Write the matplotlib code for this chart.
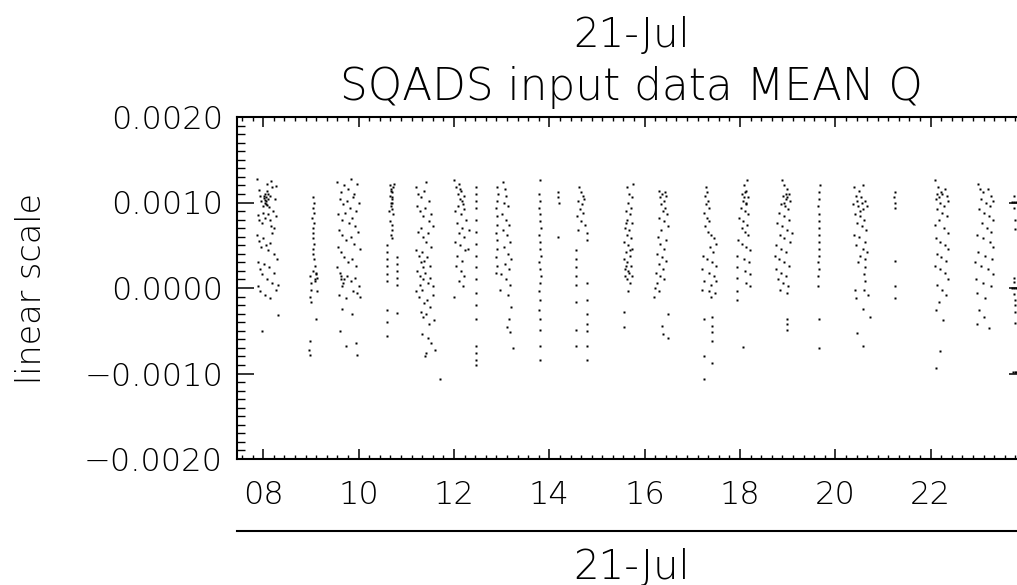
import matplotlib
matplotlib.use("Agg")
import matplotlib.pyplot as plt
from matplotlib.ticker import MultipleLocator, FixedLocator, FixedFormatter, FuncFormatter

# ---------------- data (time in hours of 21-Jul, MEAN Q in units of 1e-4) -------------
pass_A = [(7.87,12.8),(7.90,11.5),(7.93,10.8),(7.96,10.2),(7.99,9.6),(8.01,10.5),(8.03,10.0),(8.04,10.3),
          (8.05,9.8),(8.06,10.6),(8.07,11.4),(8.08,12.2),(8.10,11.0),(8.12,9.5),(8.14,10.8),(8.16,12.5),
          (8.18,11.8),(8.20,9.0),(8.24,10.4),(8.27,11.9),(7.88,8.5),(7.92,8.0),(7.97,7.6),(8.00,8.8),
          (8.03,8.2),(8.09,8.6),(8.13,7.9),(8.17,7.2),(8.22,7.0),(8.26,8.4),(7.87,6.2),(7.91,5.5),
          (7.95,4.8),(8.00,5.8),(8.06,5.0),(8.10,4.4),(8.15,5.3),(8.19,6.4),(8.23,4.0),(8.28,3.4),
          (7.88,3.0),(7.93,2.2),(7.97,1.6),(8.02,2.8),(8.07,1.0),(8.12,2.4),(8.18,0.6),(8.22,1.8),
          (8.27,-0.2),(8.30,0.4),(7.89,0.2),(7.94,-0.4),(8.04,-0.8),(8.14,-1.2),(8.31,-3.2),(7.98,-5.0),
          (8.02,10.8),(8.05,10.2),(8.07,9.7),(8.03,11.0),(8.09,10.4)]
pass_B = [(9.05,10.6),(9.06,10.0),(9.04,9.4),(9.07,8.8),(9.03,8.2),(9.06,7.6),(9.05,7.0),(9.04,6.4),
          (9.05,5.8),(9.06,5.2),(9.05,4.6),(9.04,4.0),(9.06,3.4),(9.08,2.6),(9.04,2.0),(9.10,1.6),
          (9.12,1.2),(9.09,0.8),(8.98,1.4),(8.99,0.6),(9.00,-0.2),(8.98,-1.0),(8.99,-1.6),(9.12,-0.4),
          (9.10,-3.6),(8.97,-6.2),(8.96,-7.2),(8.97,-7.8),(9.08,1.0),(9.11,1.8)]
pass_C = [(9.55,12.4),(9.62,11.2),(9.70,12.0),(9.78,11.6),(9.85,12.8),(9.90,11.0),(9.96,12.2),(9.60,10.4),
          (9.68,9.8),(9.75,10.2),(9.82,9.4),(9.88,10.6),(9.94,9.0),(10.00,10.0),(9.57,8.6),(9.65,8.0),
          (9.72,8.8),(9.80,7.6),(9.86,8.2),(9.93,7.2),(9.98,6.6),(9.58,6.8),(9.66,6.2),(9.74,5.6),
          (9.83,6.0),(9.90,5.2),(10.02,4.6),(9.56,4.8),(9.64,4.2),(9.70,3.6),(9.78,3.0),(9.86,3.4),
          (9.95,2.6),(9.55,2.4),(9.60,1.8),(9.62,1.0),(9.68,0.6),(9.75,1.4),(9.84,0.8),(9.92,1.2),
          (10.00,0.2),(9.58,-0.8),(9.74,-1.2),(9.88,-0.4),(9.96,-0.6),(10.02,-1.0),(9.66,-2.4),
          (9.86,-3.0),(9.60,-5.0),(9.73,-6.8),(9.95,-6.4),(9.96,-7.8),(9.64,1.4),(9.66,0.2),(9.70,1.0)]
pass_D = [(10.65,12.0),(10.68,11.6),(10.70,11.2),(10.66,10.8),(10.69,10.4),(10.71,10.0),(10.67,9.6),
          (10.70,9.2),(10.73,11.8),(10.75,12.2),(10.64,9.0),(10.72,8.6),(10.66,7.8),(10.69,7.4),
          (10.68,6.2),(10.70,5.8),(10.59,5.0),(10.59,4.2),(10.59,3.4),(10.59,2.6),(10.59,1.6),
          (10.59,0.8),(10.80,3.6),(10.80,2.8),(10.80,2.0),(10.80,1.2),(10.80,0.4),(10.59,-2.6),
          (10.80,-2.9),(10.59,-4.0),(10.59,-5.6),(10.70,6.8),(10.67,11.3),(10.69,10.7),(10.68,9.9)]
pass_E = [(11.20,11.8),(11.25,11.0),(11.30,10.6),(11.37,11.4),(11.42,12.4),(11.48,10.2),(11.22,9.6),
          (11.28,9.0),(11.35,8.4),(11.40,9.4),(11.47,7.8),(11.52,8.6),(11.56,7.2),(11.24,6.6),
          (11.30,7.0),(11.36,6.0),(11.41,5.4),(11.46,6.4),(11.52,4.8),(11.20,4.4),(11.26,3.8),
          (11.32,4.2),(11.38,3.2),(11.44,3.6),(11.50,2.6),(11.22,2.0),(11.28,1.4),(11.34,2.4),
          (11.40,1.8),(11.45,0.6),(11.50,1.2),(11.56,0.2),(11.20,-0.4),(11.26,-1.0),(11.32,-0.2),
          (11.38,-1.8),(11.44,-1.4),(11.50,-2.2),(11.55,-0.8),(11.30,-2.8),(11.36,-3.4),(11.42,-3.0),
          (11.48,-4.2),(11.58,-3.8),(11.33,-5.4),(11.45,-5.8),(11.52,-6.4),(11.42,-7.6),(11.40,-8.0),
          (11.60,-7.2),(11.70,-10.6),(11.30,3.0),(11.34,1.0),(11.28,0.4)]
pass_F = [(12.00,12.6),(12.05,11.8),(12.10,12.2),(12.15,11.4),(12.20,10.8),(12.12,10.4),(12.08,9.6),
          (12.18,9.8),(12.22,9.2),(12.03,9.0),(12.14,8.6),(12.25,8.0),(12.06,7.6),(12.16,7.0),
          (12.10,6.4),(12.20,6.0),(12.02,5.4),(12.12,5.0),(12.24,4.4),(12.06,3.8),(12.16,3.2),
          (12.04,2.6),(12.14,2.0),(12.22,1.4),(12.00,-1.0),(12.10,0.8),(12.18,0.2),(12.46,11.8),
          (12.46,11.0),(12.46,10.2),(12.46,9.4),(12.46,8.0),(12.46,6.6),(12.46,5.2),(12.46,3.8),
          (12.47,2.4),(12.47,1.0),(12.47,-0.6),(12.47,-2.0),(12.47,-3.6),(12.46,-6.8),(12.46,-7.6),
          (12.47,-8.4),(12.47,-9.0),(12.32,6.8),(12.30,4.6),(12.08,11.0),(12.12,11.6),(12.16,10.2)]
pass_G = [(12.90,11.8),(12.92,11.0),(12.90,10.2),(12.89,9.4),(12.90,8.4),(12.90,7.4),(12.89,6.4),
          (12.90,5.6),(12.90,4.6),(12.89,3.6),(12.90,2.6),(12.89,1.8),(13.03,12.4),(13.07,11.6),
          (13.10,10.8),(13.05,10.0),(13.13,9.6),(13.01,8.6),(13.09,8.0),(13.15,7.4),(13.03,6.8),
          (13.11,6.2),(13.17,5.4),(13.05,4.8),(13.13,4.0),(13.19,3.4),(13.07,2.8),(13.15,2.2),
          (12.99,1.6),(13.10,1.0),(13.17,0.4),(12.97,-0.2),(13.13,-0.8),(13.19,-2.2),(13.15,-3.6),
          (13.11,-4.6),(13.17,-5.2),(13.23,-7.0)]
pass_H = [(13.80,12.6),(13.78,11.0),(13.80,10.2),(13.79,9.4),(13.81,8.6),(13.80,7.8),(13.82,7.0),
          (13.79,6.2),(13.81,5.4),(13.80,4.6),(13.82,3.8),(13.78,3.0),(13.80,2.2),(13.83,1.4),
          (13.80,0.6),(13.78,-0.4),(13.81,-1.4),(13.79,-2.6),(13.80,-3.6),(13.80,-4.9),(13.80,-6.8),
          (13.80,-8.4)]
pass_I = [(14.18,11.2),(14.19,10.6),(14.20,10.0),(14.18,6.0)]
pass_J = [(14.62,11.8),(14.66,11.2),(14.70,10.8),(14.60,10.2),(14.68,9.8),(14.72,10.4),(14.64,9.2),
          (14.70,8.8),(14.58,8.4),(14.66,7.8),(14.74,7.4),(14.60,6.8),(14.78,6.4),(14.78,5.6),
          (14.57,4.4),(14.57,3.4),(14.57,2.4),(14.57,1.4),(14.57,0.4),(14.78,0.6),(14.57,-1.6),
          (14.78,-1.4),(14.78,-3.0),(14.57,-4.9),(14.78,-4.2),(14.78,-5.0),(14.57,-6.8),(14.78,-6.8),
          (14.78,-8.4)]
pass_K = [(15.62,11.8),(15.68,11.0),(15.74,10.6),(15.65,10.0),(15.72,9.4),(15.60,9.0),(15.70,8.6),
          (15.64,8.0),(15.74,7.6),(15.58,7.0),(15.68,6.8),(15.62,6.2),(15.72,5.8),(15.57,5.4),
          (15.66,5.0),(15.74,4.6),(15.60,4.2),(15.70,3.8),(15.56,3.4),(15.64,3.0),(15.72,2.6),
          (15.58,2.2),(15.68,1.8),(15.74,1.4),(15.62,1.0),(15.70,0.6),(15.66,-0.4),(15.56,-2.8),
          (15.56,-4.6),(15.76,12.2),(15.60,7.6),(15.69,4.4),(15.60,2.6),(15.65,2.0),(15.58,1.4)]
pass_L = [(16.30,11.4),(16.36,11.0),(16.42,11.2),(16.32,10.6),(16.40,10.2),(16.45,10.8),(16.34,9.8),
          (16.42,9.4),(16.38,9.0),(16.46,8.6),(16.30,8.2),(16.40,7.8),(16.48,7.2),(16.35,6.8),
          (16.28,6.0),(16.44,5.6),(16.32,5.2),(16.40,4.6),(16.26,4.0),(16.36,3.6),(16.44,3.2),
          (16.30,2.8),(16.38,2.2),(16.24,1.8),(16.33,1.4),(16.40,1.0),(16.26,0.6),(16.22,0.0),
          (16.30,-0.4),(16.20,-1.0),(16.48,-3.0),(16.36,-4.4),(16.38,-5.4),(16.48,-5.8)]
pass_M = [(17.28,11.8),(17.30,11.2),(17.26,10.8),(17.32,10.2),(17.28,9.8),(17.34,9.4),(17.24,8.8),
          (17.30,8.2),(17.36,7.8),(17.26,7.2),(17.32,6.6),(17.40,6.2),(17.46,5.8),(17.50,5.2),
          (17.38,4.8),(17.44,4.2),(17.22,3.8),(17.30,3.4),(17.42,3.0),(17.50,2.6),(17.20,2.2),
          (17.36,1.8),(17.46,1.4),(17.24,0.8),(17.40,0.4),(17.50,0.8),(17.20,-0.2),(17.34,-0.4),
          (17.48,-0.6),(17.40,-1.0),(17.25,-3.6),(17.41,-3.4),(17.41,-4.4),(17.41,-5.2),(17.41,-6.2),
          (17.25,-8.0),(17.41,-8.8),(17.25,-10.7)]
pass_N = [(18.14,12.6),(18.08,12.0),(18.12,11.4),(18.04,11.0),(18.16,10.6),(18.06,10.2),(18.12,9.8),
          (18.02,9.4),(18.10,9.0),(18.16,8.6),(17.98,8.2),(18.06,7.8),(18.14,7.4),(18.04,7.0),
          (18.10,6.6),(18.16,6.2),(17.96,5.6),(18.04,5.2),(18.12,4.8),(18.20,4.4),(17.94,3.8),
          (18.08,3.4),(18.18,3.0),(17.93,2.4),(18.10,2.0),(18.20,1.6),(17.93,1.2),(18.12,0.6),
          (18.20,0.2),(17.93,-0.4),(17.93,-1.4),(18.06,-6.9),(18.10,11.2),(18.08,10.6),(18.13,10.0)]
pass_O = [(18.88,12.6),(18.92,12.0),(18.98,11.6),(19.02,11.0),(18.90,10.8),(18.96,10.4),(19.04,10.2),
          (18.86,9.8),(18.94,9.6),(19.00,9.2),(18.82,8.8),(18.92,8.4),(19.02,8.0),(18.78,7.6),
          (18.88,7.2),(18.98,6.8),(18.84,6.2),(18.92,5.8),(19.04,5.4),(18.76,5.0),(18.86,4.6),
          (18.96,4.2),(18.74,3.8),(18.82,3.4),(18.92,3.0),(19.02,2.6),(18.76,2.2),(18.86,1.8),
          (18.96,1.4),(18.80,1.0),(18.90,0.6),(19.00,0.2),(18.84,-0.2),(18.98,-0.6),(19.10,6.4),
          (18.99,-3.6),(18.99,-4.2),(18.99,-4.9),(18.96,11.0),(18.99,10.6),(18.93,10.0)]
pass_P = [(19.67,12.0),(19.66,11.2),(19.65,10.4),(19.64,9.6),(19.65,8.6),(19.66,7.8),(19.66,7.0),
          (19.65,6.2),(19.66,5.4),(19.65,4.6),(19.65,3.8),(19.64,3.0),(19.65,2.2),(19.64,1.4),
          (19.63,0.2),(19.65,-3.6),(19.65,-7.0)]
pass_Q = [(20.40,11.8),(20.50,11.4),(20.58,12.0),(20.44,10.8),(20.54,10.6),(20.62,10.2),(20.38,9.8),
          (20.48,9.6),(20.58,9.2),(20.66,9.6),(20.42,8.6),(20.52,8.4),(20.60,8.0),(20.46,7.6),
          (20.56,7.2),(20.64,6.8),(20.40,6.2),(20.50,6.0),(20.62,5.4),(20.44,5.0),(20.58,4.6),
          (20.66,4.2),(20.52,3.8),(20.62,3.4),(20.48,3.0),(20.62,2.4),(20.60,1.6),(20.62,0.8),
          (20.60,-0.2),(20.68,-0.8),(20.42,-0.2),(20.44,-1.2),(20.58,-2.4),(20.72,-3.4),(20.46,-5.3),
          (20.58,-6.8),(20.46,10.2),(20.52,9.0),(20.56,10.0)]
pass_R = [(21.25,11.2),(21.24,10.6),(21.26,10.0),(21.25,9.4),(21.25,3.1),(21.25,0.2),(21.25,-1.2)]
pass_S = [(22.10,12.6),(22.16,11.8),(22.22,11.2),(22.30,11.6),(22.34,10.8),(22.12,10.4),(22.20,10.0),
          (22.28,9.6),(22.36,10.2),(22.14,9.2),(22.24,8.8),(22.34,8.4),(22.18,8.0),(22.10,7.4),
          (22.28,7.0),(22.36,6.4),(22.12,5.8),(22.20,5.4),(22.30,5.0),(22.36,4.6),(22.14,4.0),
          (22.22,3.6),(22.32,3.2),(22.10,2.6),(22.20,2.2),(22.30,1.8),(22.36,1.0),(22.14,0.4),
          (22.24,-0.2),(22.32,-0.8),(22.18,-1.6),(22.12,-2.6),(22.26,-3.8),(22.20,-7.4),(22.12,-9.4),
          (22.18,10.6),(22.24,11.0),(22.14,11.0)]
pass_T = [(23.00,12.2),(23.04,11.6),(23.10,11.2),(23.20,11.6),(23.26,10.8),(23.06,10.4),(23.16,10.0),
          (23.24,9.6),(23.30,10.2),(23.02,9.2),(23.12,8.8),(23.22,8.4),(23.30,8.0),(23.08,7.6),
          (23.18,7.0),(23.26,6.6),(22.98,6.2),(23.10,5.8),(23.24,5.4),(23.30,4.8),(23.00,4.2),
          (23.14,3.8),(23.28,3.4),(22.94,3.0),(23.06,2.6),(23.20,2.2),(23.30,1.6),(22.96,1.0),
          (23.10,0.6),(23.26,0.2),(22.98,-0.6),(23.14,-1.2),(23.02,-2.6),(23.12,-3.4),(22.98,-4.2),
          (23.22,-4.7)]
pass_U = [(23.74,10.1),(23.70,10.1),(23.78,10.1),(23.74,10.8),(23.74,9.4),(23.76,8.0),(23.76,6.9),
          (23.74,1.2),(23.70,0.0),(23.74,0.0),(23.78,0.0),(23.74,0.7),(23.74,-0.7),(23.76,-1.4),
          (23.76,-2.0),(23.76,-2.8),(23.76,-4.1),(23.72,-9.8),(23.76,-9.8),(23.80,-9.8)]

passes = [pass_A, pass_B, pass_C, pass_D, pass_E, pass_F, pass_G, pass_H, pass_I, pass_J, pass_K,
          pass_L, pass_M, pass_N, pass_O, pass_P, pass_Q, pass_R, pass_S, pass_T, pass_U]

x_ticks = [8, 10, 12, 14, 16, 18, 20, 22]
x_tick_labels = ['08', '10', '12', '14', '16', '18', '20', '22']
y_ticks = [-0.0020, -0.0010, 0.0000, 0.0010, 0.0020]
date_label = '21-Jul'
title_text = 'SQADS input data MEAN Q'
y_label = 'linear scale'

# ---------------- figure ----------------
W, H = 1017, 585
fig = plt.figure(figsize=(W / 100, H / 100), dpi=100)
fig.patch.set_facecolor('white')
plt.rcParams['font.family'] = ['DejaVu Sans']

def fx(px):
    return px / W

def fy(py):
    return 1 - py / H

ax_l, ax_r, ax_t, ax_b = 237, 1026, 117, 459
ax = fig.add_axes([fx(ax_l), fy(ax_b), (ax_r - ax_l) / W, (ax_b - ax_t) / H])

for p in passes:
    t = [a for a, _ in p]
    q = [b * 1e-4 for _, b in p]
    ax.plot(t, q, ls='none', marker='s', ms=1.6, mec='none', mfc='black')

ax.set_xlim(7.448, 24.0)
ax.set_ylim(-0.0020, 0.0020)

for s in ax.spines.values():
    s.set_linewidth(1.5)

ax.xaxis.set_major_locator(FixedLocator(x_ticks + [24]))
ax.xaxis.set_major_formatter(FixedFormatter(x_tick_labels + ['']))
ax.xaxis.set_minor_locator(MultipleLocator(2 / 9))
ax.yaxis.set_major_locator(FixedLocator(y_ticks))
ax.yaxis.set_major_formatter(FuncFormatter(lambda v, pos: ('%.4f' % v).replace('-', '\u2212')))
ax.yaxis.set_minor_locator(MultipleLocator(0.0001))

fs_tick = 23
ax.tick_params(axis='both', which='both', direction='in', top=True, right=True, colors='black')
ax.tick_params(axis='x', which='major', length=7.5, width=1.1, labelsize=fs_tick, pad=15)
ax.tick_params(axis='x', which='minor', length=3.2, width=1.0)
ax.tick_params(axis='y', which='major', length=12, width=1.1, labelsize=fs_tick, pad=10)
ax.tick_params(axis='y', which='minor', length=5.5, width=1.0)
for lab in ax.get_xticklabels() + ax.get_yticklabels():
    lab.set_fontweight('light')

ax.set_ylabel(y_label, fontsize=24, fontweight='light')
ax.yaxis.set_label_coords((48 - ax_l) / (ax_r - ax_l), 0.5)

# second-level date axis below the hour labels
yline = (ax_b - 531) / (ax_b - ax_t)
ax.plot([0, 1], [yline, yline], transform=ax.transAxes, clip_on=False, color='black', lw=1.5)
fig.text(fx(631.5), fy(579), date_label, ha='center', va='baseline', fontsize=29, fontweight='light')

# titles
fig.text(fx(631.5), fy(47), date_label, ha='center', va='baseline', fontsize=29, fontweight='light')
fig.text(fx(631.5), fy(100), title_text, ha='center', va='baseline', fontsize=31.5, fontweight='light')

fig.savefig('out.png', dpi=100, facecolor='white')
